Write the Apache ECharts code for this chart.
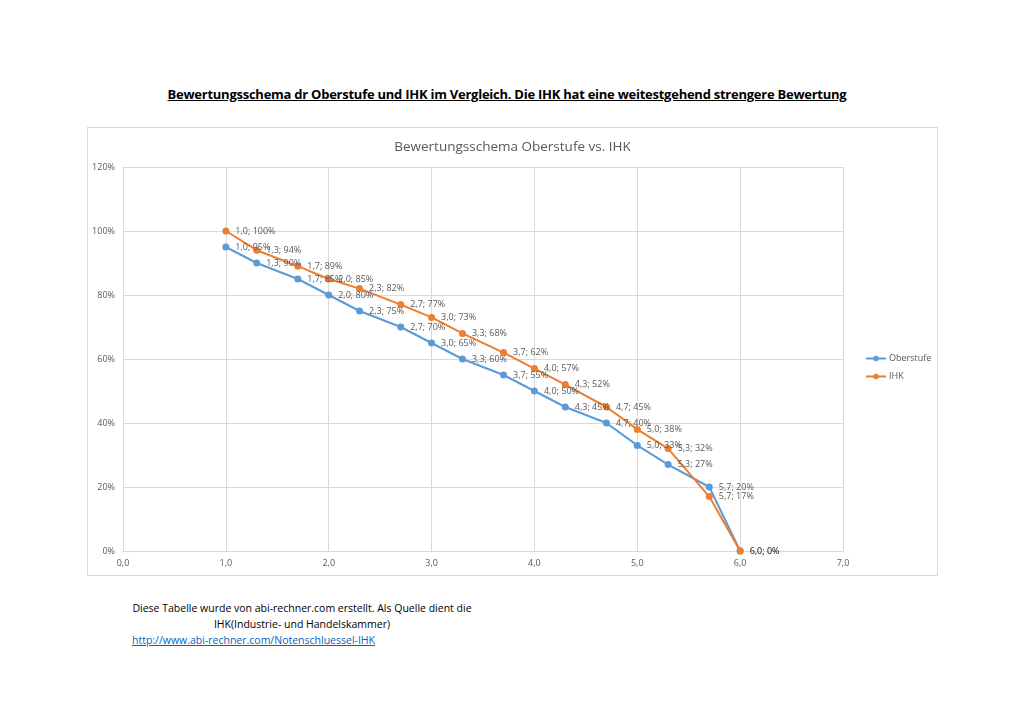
<!DOCTYPE html>
<html>
<head>
<meta charset="utf-8">
<script src="https://cdn.jsdelivr.net/npm/echarts@6/dist/echarts.min.js"></script>
<style>
  body { margin: 0; background: #fff; font-family: "Open Sans", "Liberation Sans", sans-serif; }
  #page { position: relative; width: 1024px; height: 724px; }
  #headline { position: absolute; left: 0; width: 1014px; top: 85px; text-align: center;
    font-weight: bold; font-size: 13px; text-decoration: underline; color: #000; letter-spacing: -0.25px; }
  #chart { position: absolute; left: 87px; top: 127px; width: 849px; height: 447px; border: 1px solid #d9d9d9; }
  #foot { position: absolute; left: 132px; top: 600px; font-size: 10.5px; color: #000; line-height: 16px; }
  #foot .c { width: 340px; text-align: center; }
  #foot a { color: #0563c1; text-decoration: underline; }
</style>
</head>
<body>
<div id="page">
  <div id="headline">Bewertungsschema dr Oberstufe und IHK im Vergleich. Die IHK hat eine weitestgehend strengere Bewertung</div>
  <div id="chart"></div>
  <div id="foot">
    <div class="c">Diese Tabelle wurde von abi-rechner.com erstellt. Als Quelle dient die<br>IHK(Industrie- und Handelskammer)</div>
    <a href="#">http://www.abi-rechner.com/Notenschluessel-IHK</a>
  </div>
</div>
<script>
// Noten und Prozentwerte
const noten = [1.0, 1.3, 1.7, 2.0, 2.3, 2.7, 3.0, 3.3, 3.7, 4.0, 4.3, 4.7, 5.0, 5.3, 5.7, 6.0];
const oberstufe = [95, 90, 85, 80, 75, 70, 65, 60, 55, 50, 45, 40, 33, 27, 20, 0];
const ihk = [100, 94, 89, 85, 82, 77, 73, 68, 62, 57, 52, 45, 38, 32, 17, 0];

const komma = v => v.toFixed(1).replace('.', ',');
const pairs = arr => noten.map((n, i) => [n, arr[i]]);

const chart = echarts.init(document.getElementById('chart'));

function serie(name, werte, farbe) {
  return {
    name: name,
    type: 'line',
    data: pairs(werte),
    symbol: 'circle',
    symbolSize: 7,
    lineStyle: { width: 2, color: farbe },
    itemStyle: { color: farbe },
    label: {
      show: true,
      position: 'right',
      distance: 6,
      fontSize: 9,
      color: '#595959',
      fontFamily: 'Open Sans',
      formatter: p => komma(p.value[0]) + '; ' + p.value[1] + '%'
    },
    labelLayout: { hideOverlap: false }
  };
}

chart.setOption({
  animation: false,
  textStyle: { fontFamily: 'Open Sans' },
  title: {
    text: 'Bewertungsschema Oberstufe vs. IHK',
    left: 'center',
    top: 7,
    textStyle: { fontSize: 13.5, fontWeight: 'normal', color: '#595959' }
  },
  legend: {
    orient: 'vertical',
    left: 772,
    top: 221,
    itemWidth: 20,
    itemHeight: 7,
    itemGap: 9,
    padding: 5,
    textStyle: { fontSize: 9, color: '#595959', padding: [0, 0, 0, -2] },
    data: ['Oberstufe', 'IHK']
  },
  grid: { left: 35, top: 39, width: 720, height: 384 },
  xAxis: {
    type: 'value',
    min: 0, max: 7, interval: 1,
    axisLine: { show: true, onZero: false, lineStyle: { color: '#d9d9d9' } },
    axisTick: { show: false },
    splitLine: { show: true, lineStyle: { color: '#d9d9d9' } },
    axisLabel: { fontSize: 9, color: '#595959', formatter: v => komma(v) }
  },
  yAxis: {
    type: 'value',
    min: 0, max: 120, interval: 20,
    axisLine: { show: false },
    axisTick: { show: false },
    splitLine: { lineStyle: { color: '#d9d9d9' } },
    axisLabel: { fontSize: 9, color: '#595959', formatter: '{value}%' }
  },
  series: [
    serie('Oberstufe', oberstufe, '#5b9bd5'),
    serie('IHK', ihk, '#ed7d31')
  ]
});
</script>
</body>
</html>
